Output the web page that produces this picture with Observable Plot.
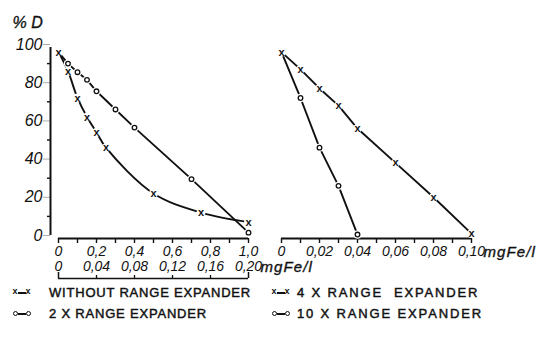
<!DOCTYPE html>
<html>
<head>
<meta charset="utf-8">
<script src="https://cdn.jsdelivr.net/npm/d3@7"></script>
<script src="https://cdn.jsdelivr.net/npm/@observablehq/plot@0.6"></script>
<style>
  html, body { margin: 0; padding: 0; background: #fff; }
  #chart { position: relative; width: 540px; height: 348px; overflow: hidden;
           font-family: "Liberation Sans", Arial, sans-serif; color: #111; }
  #chart svg { position: absolute; left: 0; top: 0; }
  .legtxt { position: absolute; font-size: 13px; line-height: 13px; white-space: pre; color: #111;
            -webkit-text-stroke: 0.45px #111; }
  .mx { position: absolute; font-size: 9px; line-height: 9px; font-weight: bold; color: #111; }
  .mo { position: absolute; width: 3px; height: 3px; border: 1.3px solid #111; border-radius: 50%; background: #fff; }
  .dash { position: absolute; height: 2px; background: #111; }
</style>
</head>
<body>
<div id="chart"></div>
<script>
// ---------------- data ----------------
// left panel: "without range expander" (x markers), upper scale 0 … 1,0 mgFe/l
const withoutConc = [0, 0.05, 0.10, 0.15, 0.20, 0.25, 0.50, 0.75, 1.00];
const withoutD    = [96, 86, 72, 62, 54, 46, 22, 12, 7];
// left panel: "2 X range expander" (o markers), lower scale 0 … 0,20 mgFe/l
const x2Conc = [0, 0.01, 0.02, 0.03, 0.04, 0.06, 0.08, 0.14, 0.20];
const x2D    = [96, 90, 85.5, 81.5, 75.5, 66, 56.5, 29.5, 1.5];
// right panel: "4 X range expander" (x markers), 0 … 0,10 mgFe/l
const x4Conc = [0, 0.01, 0.02, 0.03, 0.04, 0.06, 0.08, 0.10];
const x4D    = [96, 87, 77, 68, 56, 38, 20, 1];
// right panel: "10 X range expander" (o markers)
const x10Conc = [0, 0.01, 0.02, 0.03, 0.04];
const x10D    = [96, 72, 46, 26, 0.5];

// tick values and labels
const yTicks = [0, 20, 40, 60, 80, 100];
const yMinorTicks = [10, 30, 50, 70, 90];
const leftTopTicks  = [0, 0.2, 0.4, 0.6, 0.8, 1.0];
const leftTopLabels = ["0", "0,2", "0,4", "0,6", "0,8", "1,0"];
const leftTopMinor  = [0, 0.1, 0.2, 0.3, 0.4, 0.5, 0.6, 0.7, 0.8, 0.9, 1.0];
const leftBottomTicks  = [0, 0.04, 0.08, 0.12, 0.16, 0.20];
const leftBottomLabels = ["0", "0,04", "0,08", "0,12", "0,16", "0,20"];
const rightTicks  = [0, 0.02, 0.04, 0.06, 0.08, 0.10];
const rightLabels = ["0", "0,02", "0,04", "0,06", "0,08", "0,10"];
const rightMinor  = [0, 0.01, 0.02, 0.03, 0.04, 0.05, 0.06, 0.07, 0.08, 0.09, 0.10];
const unitLabel = "mgFe/l";
const yLabel = "% D";
const legendLabels  = ["WITHOUT RANGE EXPANDER", "4 X RANGE  EXPANDER", "2 X RANGE EXPANDER", "10 X RANGE EXPANDER"];
const legendMarkers = ["x", "x", "o", "o"];

// ---------------- build ----------------
const leftMax = 1.0, leftLowMax = 0.20;
const ratio = leftMax / leftLowMax; // lower scale -> upper scale
const rows = (cs, ds) => cs.map((c, i) => ({c, d: ds[i]}));
const withoutData = rows(withoutConc, withoutD);
const x2Data = rows(x2Conc, x2D);
const x4Data = rows(x4Conc, x4D);
const x10Data = rows(x10Conc, x10D);

const FONT = "'Liberation Sans', Arial, sans-serif";
const ital = {fontFamily: FONT, fontStyle: "italic", stroke: "#111", strokeWidth: 0.35, fill: "#111"};
const common = {
  width: 540, height: 285, marginTop: 44, marginBottom: 50,
  style: "background:transparent;overflow:visible;font-family:" + FONT + ";color:#111"
};
const LW = 1.9;
const XF = 14; // x tick label size
const lbl = (ticks, labels) => d => labels[ticks.indexOf(d)];

function seriesMarks(xData, xAcc, oData, oAcc, xCurve) {
  return [
    Plot.line(xData, {x: xAcc, y: "d", curve: xCurve, stroke: "#111", strokeWidth: LW}),
    Plot.line(oData, {x: oAcc, y: "d", stroke: "#111", strokeWidth: LW}),
    Plot.dot(xData, {x: xAcc, y: "d", r: 4.5, fill: "white"}),
    Plot.dot(oData, {x: oAcc, y: "d", r: 4.2, fill: "white", filter: d => d.c > 0}),
    Plot.text(xData, {x: xAcc, y: "d", text: () => "x", fontSize: 11, fontWeight: "bold",
                      fontFamily: FONT, lineAnchor: "middle", fill: "#111"}),
    Plot.dot(oData, {x: oAcc, y: "d", r: 2.3, stroke: "#111", strokeWidth: 1.3, fill: "white",
                     filter: d => d.c > 0})
  ];
}

const unitMark = (xv, dy) => Plot.text([{x: xv, t: unitLabel}], {x: "x", text: "t", frameAnchor: "bottom", dy, dx: 12,
  textAnchor: "start", lineAnchor: "top", fontSize: XF + 1, ...ital, className: "unit"});

const left = Plot.plot({
  ...common,
  marginLeft: 58, marginRight: 292,
  x: {domain: [0, leftMax], label: null},
  y: {domain: [0, 100], label: null},
  marks: [
    // y axis
    Plot.ruleX([0], {y1: 0, y2: 100, dx: -8, insetBottom: -3, strokeWidth: 2, stroke: "#111"}),
    Plot.axisY(yTicks, {anchor: "left", label: null, tickSize: 7, tickPadding: 1, dx: -8, strokeWidth: 1.6,
                        fontSize: 16, ...ital, tickFormat: d => String(d)}),
    Plot.axisY(yMinorTicks, {anchor: "left", label: null, tickSize: 3, dx: -8, strokeWidth: 1.4, tickFormat: () => ""}),
    Plot.text([yLabel], {frameAnchor: "top-left", dx: -46, dy: -22, textAnchor: "start",
                         lineAnchor: "middle", fontSize: 16, ...ital}),
    // x axis (upper scale)
    Plot.ruleY([0], {dy: 3, strokeWidth: 2, stroke: "#111"}),
    Plot.axisX(leftTopMinor, {anchor: "bottom", label: null, tickSize: 5, dy: 3, strokeWidth: 1.4, tickFormat: () => ""}),
    Plot.axisX(leftTopTicks, {anchor: "bottom", label: null, tickSize: 0, tickPadding: 11, fontSize: XF, ...ital,
                              tickFormat: lbl(leftTopTicks, leftTopLabels)}),
    // lower scale
    Plot.axisX(leftBottomTicks.map(t => t * ratio), {anchor: "bottom", label: null, tickSize: 0, tickPadding: 26, fontSize: XF, ...ital,
                              tickFormat: d => leftBottomLabels[leftBottomTicks.findIndex(t => Math.abs(t * ratio - d) < 1e-9)]}),
    unitMark(leftMax, 26),
    // bracket under lower scale
    Plot.ruleY([0], {dy: 43, strokeWidth: 1.6, stroke: "#111"}),
    Plot.axisX(leftBottomTicks.slice(1, -1).map(t => t * ratio), {anchor: "bottom", label: null, tickSize: -3, dy: 43, strokeWidth: 1.3, tickFormat: () => ""}),
    Plot.axisX([leftBottomTicks[0], leftBottomTicks[leftBottomTicks.length - 1]].map(t => t * ratio),
               {anchor: "bottom", label: null, tickSize: -6, dy: 43, strokeWidth: 1.5, tickFormat: () => ""}),
    // data
    ...seriesMarks(withoutData, "c", x2Data, d => d.c * ratio, "catmull-rom")
  ]
});

const right = Plot.plot({
  ...common,
  marginLeft: 281, marginRight: 69,
  x: {domain: [0, 0.10], label: null},
  y: {domain: [0, 100], axis: null, label: null},
  marks: [
    Plot.ruleY([0], {dy: 3, strokeWidth: 2, stroke: "#111"}),
    Plot.axisX(rightMinor, {anchor: "bottom", label: null, tickSize: 5, dy: 3, strokeWidth: 1.4, tickFormat: () => ""}),
    Plot.axisX(rightTicks, {anchor: "bottom", label: null, tickSize: 0, tickPadding: 11, fontSize: XF, ...ital,
                            tickFormat: lbl(rightTicks, rightLabels)}),
    unitMark(rightTicks[rightTicks.length - 1], 11),
    ...seriesMarks(x4Data, "c", x10Data, "c", "linear")
  ]
});

const chart = document.getElementById("chart");
chart.appendChild(left);
chart.appendChild(right);
// wider letter spacing for the unit text, as in the reference
chart.querySelectorAll("g.unit text").forEach(t => t.style.letterSpacing = "1.1px");

// legend (HTML)
const legCols = [{sym: 13, txt: 49, ls: 0.8}, {sym: 272, txt: 297, ls: 1.85}];
const legRowTops = [286, 307];
legendLabels.forEach((label, i) => {
  const col = legCols[i % 2], top = legRowTops[Math.floor(i / 2)];
  const t = document.createElement("div");
  t.className = "legtxt";
  t.style.left = col.txt + "px"; t.style.top = top + "px"; t.style.letterSpacing = col.ls + "px";
  t.textContent = label;
  chart.appendChild(t);
  const cy = top + 7;
  [col.sym, col.sym + 13].forEach(x => {
    const m = document.createElement("div");
    if (legendMarkers[i] === "x") {
      m.className = "mx"; m.textContent = "x";
      m.style.left = (x - 0.5) + "px"; m.style.top = (cy - 6) + "px";
    } else {
      m.className = "mo";
      m.style.left = x + "px"; m.style.top = (cy - 3) + "px";
    }
    chart.appendChild(m);
  });
  const dsh = document.createElement("div");
  dsh.className = "dash";
  dsh.style.left = (col.sym + 5) + "px"; dsh.style.width = "8px"; dsh.style.top = (cy - 1) + "px";
  chart.appendChild(dsh);
});
</script>
</body>
</html>
